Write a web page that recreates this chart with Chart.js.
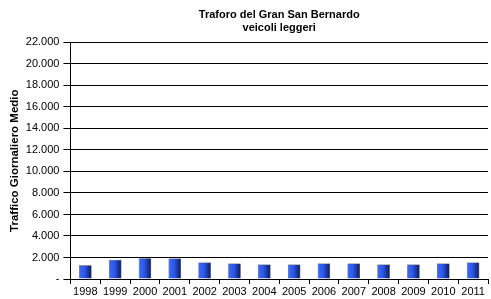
<!DOCTYPE html>
<html>
<head>
    <title>Traforo del Gran San Bernardo</title>
    <style type="text/css">
        body { margin: 0; background: #fff; }
    </style>
    <script src="https://cdn.jsdelivr.net/npm/chart.js@4/dist/chart.umd.min.js"></script>
</head>
<body>
    <canvas id="graphCanvas" width="491" height="299"></canvas>
    <script>
        // dati
        var anni = ['1998', '1999', '2000', '2001', '2002', '2003', '2004', '2005', '2006', '2007', '2008', '2009', '2010', '2011'];
        var traffico = [1290, 1800, 1940, 1910, 1530, 1440, 1350, 1350, 1440, 1440, 1350, 1350, 1440, 1530];
        var titolo = ['Traforo del Gran San Bernardo', 'veicoli leggeri'];
        var titoloAsse = 'Traffico Giornaliero Medio';

        var BAR_PCT = 0.42;

        // sfumatura orizzontale su ogni barra
        function barGradient(ctx) {
            var chart = ctx.chart;
            var xs = chart.scales && chart.scales.x;
            if (!chart.chartArea || !xs || ctx.dataIndex === undefined) return '#2e5be0';
            var cx = xs.getPixelForValue(ctx.dataIndex);
            var half = xs.width / anni.length * BAR_PCT / 2;
            if (!isFinite(cx) || !isFinite(half)) return '#2e5be0';
            var g = chart.ctx.createLinearGradient(cx - half, 0, cx + half, 0);
            g.addColorStop(0, '#3a6cff');
            g.addColorStop(0.45, '#2c56e6');
            g.addColorStop(1, '#0c1a55');
            return g;
        }

        function fmt(v) {
            if (v === 0) return '-';
            return v.toString().replace(/\B(?=(\d{3})+(?!\d))/g, '.');
        }

        Chart.defaults.font.family = "'Liberation Sans', Arial, sans-serif";
        Chart.defaults.color = '#000';

        new Chart(document.getElementById('graphCanvas'), {
            type: 'bar',
            data: {
                labels: anni,
                datasets: [{
                    data: traffico,
                    backgroundColor: barGradient,
                    borderColor: '#000',
                    borderWidth: 0.5,
                    categoryPercentage: 1,
                    barPercentage: BAR_PCT
                }]
            },
            options: {
                responsive: false,
                animation: false,
                devicePixelRatio: 1,
                layout: { padding: { left: 8, right: 3, top: 0, bottom: 0 } },
                plugins: {
                    legend: { display: false },
                    tooltip: { enabled: false },
                    title: {
                        display: true,
                        fullSize: false,   // centrato sull'area del grafico
                        text: titolo,
                        font: { size: 11, weight: 'bold' },
                        lineHeight: 1.1,
                        padding: { top: 8, bottom: 8 }
                    }
                },
                scales: {
                    x: {
                        offset: true,
                        grid: {
                            offset: true,
                            drawOnChartArea: false,
                            color: '#000',
                            tickLength: 5
                        },
                        border: { color: '#000' },
                        ticks: { font: { size: 11, lineHeight: 1.0 }, maxRotation: 0, padding: 2 }
                    },
                    y: {
                        min: 0,
                        max: 22000,
                        ticks: {
                            stepSize: 2000,
                            font: { size: 11 },
                            padding: 4,
                            callback: function (v) { return fmt(v); }
                        },
                        grid: { color: '#000', tickLength: 7 },
                        border: { color: '#000' },
                        title: {
                            display: true,
                            text: titoloAsse,
                            font: { size: 11.5, weight: 'bold' },
                            padding: 0
                        }
                    }
                }
            }
        });
    </script>
</body>
</html>
